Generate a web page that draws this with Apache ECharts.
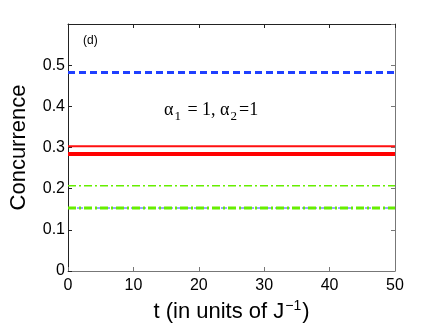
<!DOCTYPE html>
<html>
<head>
<meta charset="utf-8">
<script src="https://cdn.jsdelivr.net/npm/echarts@6/dist/echarts.min.js"></script>
<style>
  html, body { margin: 0; padding: 0; background: #fff; }
  #chart { width: 436px; height: 328px; }
</style>
</head>
<body>
<div id="chart"></div>
<script>
// time points (J^-1) and concurrence values, all curves are flat
var tPoints = [0, 50];
var blueThick = [0.482, 0.482];
var blueThin = [0.153, 0.153];
var redThin = [0.303, 0.303];
var redThick = [0.284, 0.284];
var greenThin = [0.207, 0.207];
var greenThick = [0.153, 0.153];
var xTicks = [0, 10, 20, 30, 40, 50];
var yTicks = [0, 0.1, 0.2, 0.3, 0.4, 0.5];

function pairs(ys) {
  return tPoints.map(function (t, i) { return [t, ys[i]]; });
}

var font = "Liberation Sans, Arial, sans-serif";
var serif = "Liberation Serif, Times New Roman, serif";
var chart = echarts.init(document.getElementById("chart"));

function line(ys, color, width, dash, axisIdx) {
  return {
    type: "line",
    data: pairs(ys),
    xAxisIndex: axisIdx || 0,
    yAxisIndex: axisIdx || 0,
    showSymbol: false,
    silent: true,
    lineStyle: { color: color, width: width, type: dash || "solid" }
  };
}

chart.setOption({
  animation: false,
  grid: { left: 60, right: 41, top: 24, bottom: 55 },
  xAxis: [
    {
      type: "value", min: 0, max: 50, interval: 10,
      name: "{a|t (in units of J}{s|\u22121}{a|)}",
      nameLocation: "middle", nameGap: 28,
      nameTextStyle: {
        rich: {
          a: { fontSize: 22, fontFamily: font, color: "#000" },
          s: { fontSize: 14, fontFamily: font, color: "#000", padding: [0, 1, 12, 1] }
        }
      },
      axisLine: { lineStyle: { color: "#777", width: 1 } },
      axisTick: { inside: true, length: 4, lineStyle: { color: "#777" } },
      axisLabel: {
        fontSize: 16, fontFamily: font, color: "#000", margin: 7,
        formatter: function (v) { return xTicks.indexOf(v) >= 0 ? String(v) : ""; }
      },
      splitLine: { show: false }
    },
    {
      type: "value", min: 0, max: 50, interval: 10, position: "top",
      axisLine: { show: true, onZero: false, lineStyle: { color: "#222" } },
      axisTick: { show: true, inside: true, length: 4, lineStyle: { color: "#222" } },
      axisLabel: { show: false },
      splitLine: { show: false }
    }
  ],
  yAxis: [
    {
      type: "value", min: 0, max: 0.6, interval: 0.1,
      name: "Concurrence",
      nameLocation: "middle", nameGap: 38,
      nameTextStyle: { fontSize: 22, fontFamily: font, color: "#000" },
      axisLine: { show: true, lineStyle: { color: "#222", width: 1 } },
      axisTick: { show: true, inside: true, length: 4, lineStyle: { color: "#222" } },
      axisLabel: {
        fontSize: 16, fontFamily: font, color: "#000", margin: 3,
        showMaxLabel: false,
        formatter: function (v) {
          var r = Math.round(v * 10) / 10;
          return yTicks.indexOf(r) >= 0 ? String(r) : "";
        }
      },
      splitLine: { show: false }
    },
    {
      type: "value", min: 0, max: 0.6, interval: 0.1, position: "right",
      axisLine: { show: true, onZero: false, lineStyle: { color: "#777" } },
      axisTick: { show: true, inside: true, length: 4, lineStyle: { color: "#777" } },
      axisLabel: { show: false },
      splitLine: { show: false }
    }
  ],
  series: [
    line(blueThick, "#1f3fff", 3, [7, 4]),
    line(blueThin, "#3050ff", 1, [6, 3], 1),
    line(redThin, "#ff1010", 2),
    line(redThick, "#ff0000", 4),
    line(greenThin, "#66ee00", 1.5, [8, 3, 2, 3]),
    line(greenThick, "#66ee00", 3, [8, 3, 2, 3])
  ],
  graphic: [
    {
      type: "text", left: 83, top: 35,
      style: { text: "(d)", fontSize: 12, fontFamily: font, fill: "#000" }
    },
    {
      type: "text", left: 164, top: 101,
      style: {
        text: "{a|\u03b1}{b|1}{a| = 1, \u03b1}{b|2}{a|=1}",
        rich: {
          a: { fontSize: 18, fontFamily: serif, fill: "#000" },
          b: { fontSize: 13, fontFamily: serif, fill: "#000", padding: [13, 2, 0, 1] }
        }
      }
    }
  ]
});
</script>
</body>
</html>
